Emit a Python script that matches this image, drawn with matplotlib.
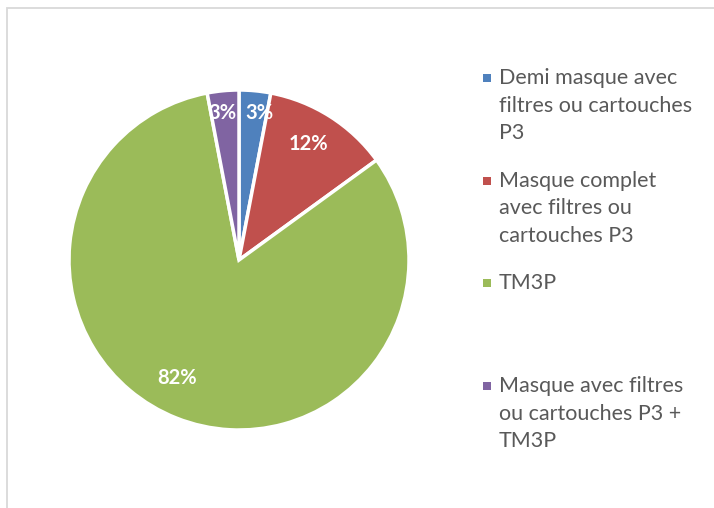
import matplotlib.pyplot as plt
from matplotlib.patches import Rectangle

# Data
labels = ['Demi masque avec\nfiltres ou cartouches\nP3',
          'Masque complet\navec filtres ou\ncartouches P3',
          'TM3P',
          'Masque avec filtres\nou cartouches P3 +\nTM3P']
values = [3, 12, 82, 3]
colors = ['#4F81BD', '#C0504D', '#9BBB59', '#8064A2']
# where Excel put the percentage labels (pie units)
label_pos = [(0.12, 0.865), (0.41, 0.68), (-0.365, -0.694), (-0.095, 0.865)]

W, H = 714, 508
fig = plt.figure(figsize=(W / 100, H / 100), dpi=100)

# light grey chart border (only top and left edges are visible)
fig.patches.append(Rectangle((7 / W, -0.1), 1.2, (H - 8) / H + 0.1,
                             transform=fig.transFigure, fill=False,
                             edgecolor='#D9D9D9', linewidth=1.3))

# Pie
cx, cy, r = 239, 260, 170
ax = fig.add_axes([(cx - r) / W, (H - cy - r) / H, 2 * r / W, 2 * r / H])
wedges, texts, autotexts = ax.pie(values, colors=colors, startangle=90,
                                  counterclock=False, autopct='%1.0f%%',
                                  pctdistance=0.8,
                                  wedgeprops=dict(edgecolor='white', linewidth=2.5),
                                  textprops=dict(color='white', fontsize=14.5,
                                                 fontweight='bold',
                                                 family='Lato'))
for t, p in zip(autotexts, label_pos):
    t.set_position(p)
ax.set_aspect('equal')
ax.set_xlim(-1, 1)
ax.set_ylim(-1, 1)

# Legend drawn by hand so entries are evenly spaced
y0, step = 68, 102.7
for i, (lab, col) in enumerate(zip(labels, colors)):
    ytop = y0 + i * step
    fig.patches.append(Rectangle((483 / W, 1 - (ytop + 14) / H), 8 / W, 8 / H,
                                 transform=fig.transFigure, facecolor=col,
                                 edgecolor='none'))
    fig.text(499 / W, 1 - ytop / H, lab, ha='left', va='top',
             fontsize=15.5, family='Lato', color='#595959', linespacing=1.47)

fig.savefig('out.png', dpi=100)
